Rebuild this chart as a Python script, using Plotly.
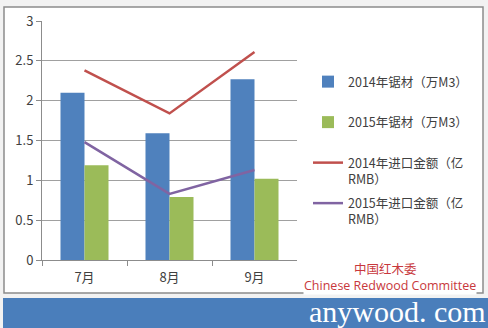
import plotly.graph_objects as go

# Monthly data
months = ["7月", "8月", "9月"]
lumber_2014 = [2.10, 1.59, 2.27]      # 2014年锯材（万M3）
lumber_2015 = [1.19, 0.79, 1.02]      # 2015年锯材（万M3）
value_2014 = [2.38, 1.84, 2.61]       # 2014年进口金额（亿RMB）
value_2015 = [1.48, 0.83, 1.13]       # 2015年进口金额（亿RMB）

# legend labels; every entry spans two lines so the entries are evenly spaced
series_names = [
    "2014年锯材（万M3）<br> ",
    "2015年锯材（万M3）<br> ",
    "2014年进口金额（亿<br>RMB）",
    "2015年进口金额（亿<br>RMB）",
]

W, H = 488, 328
FONT = "Noto Sans CJK SC"

def px_x(p):
    return p / W

def px_y(p):
    return 1 - p / H

fig = go.Figure()
fig.add_trace(go.Bar(x=months, y=lumber_2014, name=series_names[0],
                     marker=dict(color="#4f81bd", line=dict(width=0)),
                     legendgroup="a"))
fig.add_trace(go.Bar(x=months, y=lumber_2015, name=series_names[1],
                     marker=dict(color="#9bbb59", line=dict(width=0)),
                     legendgroup="b"))
fig.add_trace(go.Scatter(x=months, y=value_2014, name=series_names[2],
                         mode="lines", line=dict(color="#c0504d", width=2.5),
                         legendgroup="c"))
fig.add_trace(go.Scatter(x=months, y=value_2015, name=series_names[3],
                         mode="lines", line=dict(color="#8064a2", width=2.5),
                         legendgroup="d"))

shapes = [
    # chart frame
    dict(type="rect", xref="paper", yref="paper",
         x0=px_x(4), x1=px_x(483), y0=px_y(293), y1=px_y(7),
         fillcolor="white", line=dict(color="#8c8c8c", width=1.5), layer="below"),
    # bottom banner
    dict(type="rect", xref="paper", yref="paper",
         x0=px_x(3), x1=1, y0=0, y1=px_y(298),
         fillcolor="#4a7ebb", line=dict(width=0), layer="below"),
]

annotations = [
    dict(text="中国红木委", xref="paper", yref="paper",
         x=px_x(385), y=px_y(268), xanchor="center", yanchor="middle",
         showarrow=False, borderpad=0,
         font=dict(family=FONT, size=12.5, color="#c8383c")),
    dict(text="Chinese Redwood Committee", xref="paper", yref="paper",
         x=px_x(390), y=px_y(285), xanchor="center", yanchor="middle",
         showarrow=False, bgcolor="white", borderpad=0,
         font=dict(family="Open Sans", size=12.5, color="#c8383c")),
    dict(text="anywood. com", xref="paper", yref="paper",
         x=px_x(487), y=px_y(311), xanchor="right", yanchor="middle",
         showarrow=False, borderpad=0,
         font=dict(family="Liberation Serif", size=30, color="white")),
]

fig.update_layout(
    width=W, height=H,
    margin=dict(l=0, r=0, t=0, b=0, autoexpand=False),
    paper_bgcolor="#f2f2f2",
    plot_bgcolor="white",
    barmode="group",
    bargap=0.435,
    bargroupgap=0,
    showlegend=True,
    legend=dict(x=px_x(308), y=px_y(67), xanchor="left", yanchor="top",
                bgcolor="rgba(0,0,0,0)", tracegroupgap=5, valign="top",
                font=dict(family=FONT, size=12.5, color="#404040"),
                itemwidth=30),
    xaxis=dict(domain=[px_x(42), px_x(297)], type="category",
               automargin=False,
               showline=True, linecolor="#8c8c8c", linewidth=1,
               ticks="outside", tickson="boundaries", ticklen=5,
               tickcolor="#8c8c8c", showgrid=False, ticklabelstandoff=5,
               tickfont=dict(family=FONT, size=13, color="#404040")),
    yaxis=dict(domain=[px_y(260), px_y(21)], range=[0, 3], dtick=0.5,
               automargin=False,
               showline=True, linecolor="#8c8c8c", linewidth=1,
               ticks="outside", ticklen=5, tickcolor="#8c8c8c",
               showgrid=True, gridcolor="#a0a0a0", gridwidth=1,
               zeroline=False,
               tickfont=dict(family=FONT, size=13, color="#404040")),
    shapes=shapes,
    annotations=annotations,
)

fig.write_html("out.html")
